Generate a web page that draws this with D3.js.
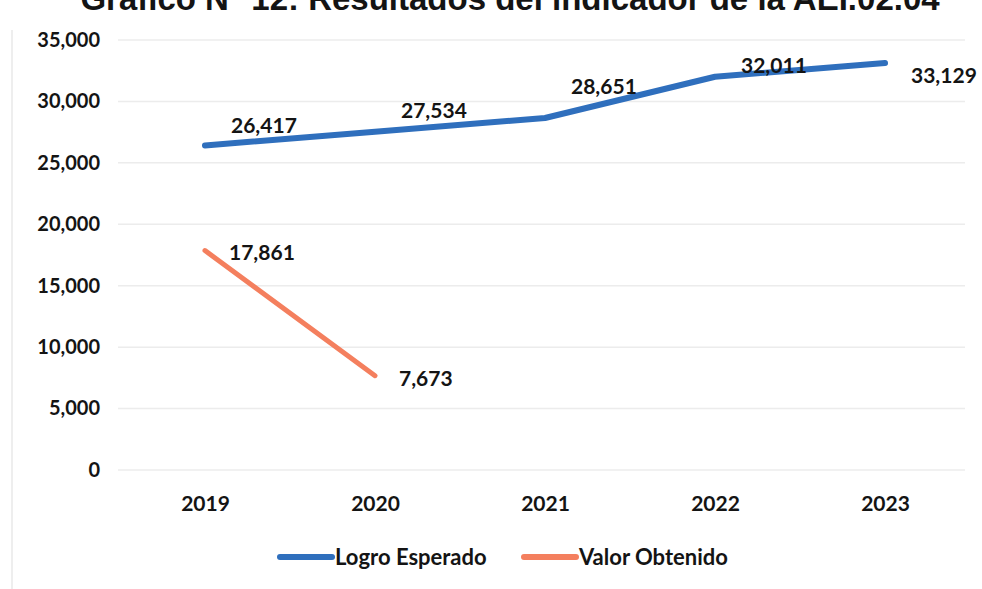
<!DOCTYPE html>
<html>
<head>
<meta charset="utf-8">
<script src="https://cdn.jsdelivr.net/npm/d3@7"></script>
<style>
  body { margin: 0; background: #fff; }
  svg { display: block; }
  text { font-family: Lato, "Open Sans", sans-serif; font-weight: bold; fill: #141414; }
</style>
</head>
<body>
<svg id="chart" width="982" height="589"></svg>
<script>
var years = ["2019", "2020", "2021", "2022", "2023"];
var logroEsperado = [26417, 27534, 28651, 32011, 33129];
var valorObtenido = [17861, 7673, null, null, null];
var yTicks = [0, 5000, 10000, 15000, 20000, 25000, 30000, 35000];
var titleText = "Gráfico N° 12: Resultados del indicador de la AEI.02.04";
var seriesNames = ["Logro Esperado", "Valor Obtenido"];

const svg = d3.select("#chart");
const blue = "#2f6fbd", orange = "#f47f5e";

const xScale = d3.scalePoint().domain(years).range([205, 885]);
const yScale = d3.scaleLinear().domain([0, 35000]).range([470, 40]);
const fmt = d3.format(",");

// title, cut off by the top of the scan
svg.append("text").attr("x", 510).attr("y", 10).attr("text-anchor", "middle")
  .style("font-family", "'Liberation Sans', Arial, sans-serif")
  .style("font-size", "33px").text(titleText);

// faint left border of the scan
svg.append("line").attr("x1", 12).attr("x2", 12).attr("y1", 30).attr("y2", 589)
  .attr("stroke", "#eeeeee").attr("stroke-width", 2);

// grid
svg.selectAll(".grid").data(yTicks).enter().append("line")
  .attr("x1", 118).attr("x2", 965)
  .attr("y1", d => yScale(d)).attr("y2", d => yScale(d))
  .attr("stroke", "#ececec").attr("stroke-width", 1.5);

// y axis
const yAxisG = svg.append("g").attr("transform", "translate(100,0)");
yAxisG.call(d3.axisLeft(yScale).tickValues(yTicks).tickSize(0).tickPadding(0).tickFormat(fmt));
yAxisG.select(".domain").remove();
yAxisG.selectAll("text").style("font-size", "20px").style("font-family", "Lato, sans-serif").attr("fill", "#141414");

// x axis
const xAxisG = svg.append("g").attr("transform", "translate(0,496)");
xAxisG.call(d3.axisBottom(xScale).tickSize(0).tickPadding(0));
xAxisG.select(".domain").remove();
xAxisG.selectAll("text").style("font-size", "21px").style("font-family", "Lato, sans-serif").attr("fill", "#141414");

const line = d3.line()
  .defined(d => d.v != null)
  .x(d => xScale(d.year))
  .y(d => yScale(d.v));

const logroData = years.map((y, i) => ({ year: y, v: logroEsperado[i] }));
const valorData = years.map((y, i) => ({ year: y, v: valorObtenido[i] }));

svg.append("path").attr("d", line(logroData)).attr("fill", "none")
  .attr("stroke", blue).attr("stroke-width", 6).attr("stroke-linecap", "round").attr("stroke-linejoin", "round");
svg.append("path").attr("d", line(valorData)).attr("fill", "none")
  .attr("stroke", orange).attr("stroke-width", 5).attr("stroke-linecap", "round");

// data labels (vertical nudge per point, as placed in the original)
var nudge = [-12, -14, -24, -4, 20];
svg.selectAll(".lblA").data(logroData).enter().append("text")
  .attr("x", d => xScale(d.year) + 26)
  .attr("y", (d, i) => yScale(d.v) + nudge[i])
  .style("font-size", "21px").text(d => fmt(d.v));
svg.selectAll(".lblB").data(valorData.filter(d => d.v != null)).enter().append("text")
  .attr("x", d => xScale(d.year) + 24)
  .attr("y", (d, i) => yScale(d.v) + (i == 0 ? 9 : 10))
  .style("font-size", "21px").text(d => fmt(d.v));

// legend
const legend = svg.append("g").attr("transform", "translate(0,557)");
[blue, orange].forEach(function(c, i) {
  var x0 = i == 0 ? 280 : 524;
  legend.append("line").attr("x1", x0).attr("x2", x0 + 52).attr("y1", 0).attr("y2", 0)
    .attr("stroke", c).attr("stroke-width", 6).attr("stroke-linecap", "round");
  legend.append("text").attr("x", x0 + 55).attr("y", 8).style("font-size", "22px").text(seriesNames[i]);
});
</script>
</body>
</html>
